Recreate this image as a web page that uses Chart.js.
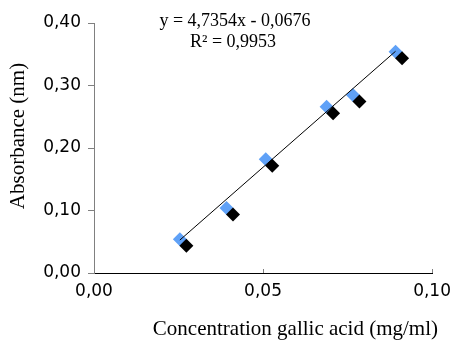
<!DOCTYPE html>
<html>
<head>
  <meta charset="utf-8">
  <title>Gallic acid calibration</title>
  <script src="https://cdn.jsdelivr.net/npm/chart.js"></script>
  <style>
    html, body { margin: 0; padding: 0; background: #fff; }
    #wrap { width: 459px; height: 340px; }
  </style>
</head>
<body>
  <div id="wrap"><canvas id="chart"></canvas></div>
  <script>
    // data
    const concentration = [0.0254, 0.0392, 0.0508, 0.0688, 0.0766, 0.0892];
    const absorbance = [0.054, 0.104, 0.182, 0.266, 0.285, 0.354];
    const xTicks = [0, 0.05, 0.10];
    const yTicks = [0, 0.10, 0.20, 0.30, 0.40];
    const SLOPE = 4.7354;
    const INTERCEPT = -0.0676;
    const R2 = 0.9953;

    const comma = (v, d) => v.toFixed(d).replace(".", ",");
    const serif = "'Liberation Serif', 'Times New Roman', serif";
    const sans = "'DejaVu Sans', Verdana, sans-serif";

    const points = concentration.map((x, i) => ({ x, y: absorbance[i] }));
    const x0 = concentration[0];
    const x1 = concentration[concentration.length - 1];
    const trend = [
      { x: x0, y: SLOPE * x0 + INTERCEPT },
      { x: x1, y: SLOPE * x1 + INTERCEPT },
    ];

    // black offset diamonds, inner x ticks, titles and equation
    const extras = {
      id: "extras",
      afterDatasetsDraw(chart) {
        const ctx = chart.ctx;
        const meta = chart.getDatasetMeta(1);
        ctx.save();
        ctx.fillStyle = "#000";
        for (const el of meta.data) {
          const cx = el.x + 6.5, cy = el.y + 6.5, r = 7;
          ctx.beginPath();
          ctx.moveTo(cx, cy - r);
          ctx.lineTo(cx + r, cy);
          ctx.lineTo(cx, cy + r);
          ctx.lineTo(cx - r, cy);
          ctx.closePath();
          ctx.fill();
        }
        ctx.restore();
      },
      afterDraw(chart) {
        const ctx = chart.ctx;
        const area = chart.chartArea;
        const xs = chart.scales.x;
        ctx.save();
        ctx.strokeStyle = "#808080";
        ctx.lineWidth = 1;
        for (const t of xTicks) {
          if (t === 0) continue;
          const px = Math.round(xs.getPixelForValue(t)) + 0.5;
          ctx.beginPath();
          ctx.moveTo(px, area.bottom);
          ctx.lineTo(px, area.bottom - 4);
          ctx.stroke();
        }

        ctx.fillStyle = "#000";
        ctx.font = "21px " + serif;
        ctx.textAlign = "right";
        ctx.textBaseline = "alphabetic";
        ctx.fillText("Concentration gallic acid (mg/ml)", 438, 335);

        ctx.save();
        ctx.translate(24, 136);
        ctx.rotate(-Math.PI / 2);
        ctx.textAlign = "center";
        ctx.fillText("Absorbance (nm)", 0, 0);
        ctx.restore();

        ctx.font = "18px " + serif;
        ctx.textAlign = "center";
        const sign = INTERCEPT < 0 ? " - " : " + ";
        ctx.fillText("y = " + comma(SLOPE, 4) + "x" + sign + comma(Math.abs(INTERCEPT), 4), 235, 26);
        ctx.fillText("R\u00b2 = " + comma(R2, 4), 233, 47);
        ctx.restore();
      },
    };

    new Chart(document.getElementById("chart"), {
      type: "scatter",
      data: {
        datasets: [
          {
            type: "line",
            data: trend,
            borderColor: "#000",
            borderWidth: 1,
            pointRadius: 0,
            fill: false,
          },
          {
            data: points,
            pointStyle: "rectRot",
            pointRadius: 7,
            pointHoverRadius: 7,
            backgroundColor: "#5fa1f7",
            borderWidth: 0,
          },
        ],
      },
      options: {
        responsive: true,
        maintainAspectRatio: false,
        animation: false,
        events: [],
        layout: { padding: { top: 23, right: 22, left: 0, bottom: 0 } },
        plugins: { legend: { display: false }, tooltip: { enabled: false } },
        scales: {
          x: {
            type: "linear",
            min: 0,
            max: 0.1,
            afterBuildTicks: (s) => { s.ticks = xTicks.map((v) => ({ value: v })); },
            afterFit: (s) => { s.height = 67; },
            grid: { drawOnChartArea: false, drawTicks: false },
            border: { color: "#000", width: 1 },
            ticks: {
              padding: 8,
              color: "#000",
              font: { family: sans, size: 17 },
              callback: (v) => comma(v, 2),
            },
          },
          y: {
            type: "linear",
            min: 0,
            max: 0.4,
            afterBuildTicks: (s) => { s.ticks = yTicks.map((v) => ({ value: v })); },
            afterFit: (s) => { s.width = 94; },
            grid: { drawOnChartArea: false, drawTicks: true, tickLength: 6, color: "#808080" },
            border: { color: "#808080", width: 1 },
            ticks: {
              padding: 7,
              color: "#000",
              font: { family: sans, size: 17 },
              callback: (v) => comma(v, 2),
            },
          },
        },
      },
      plugins: [extras],
    });
  </script>
</body>
</html>
